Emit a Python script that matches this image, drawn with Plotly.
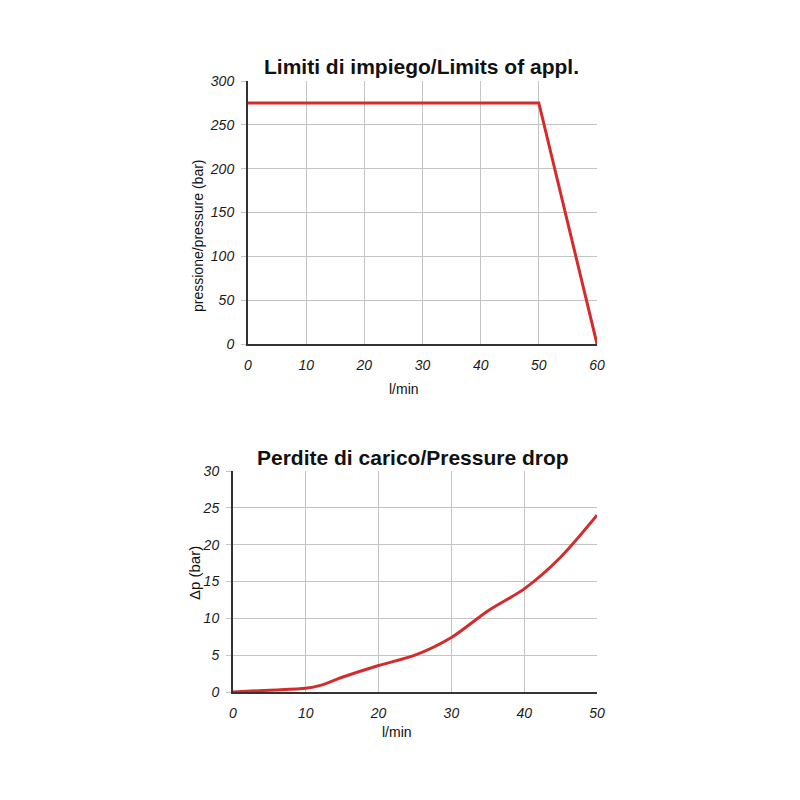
import plotly.graph_objects as go

# Top chart: limits of application
lim_flow = [0, 50, 60]
lim_pressure = [275, 275, 0]

# Bottom chart: pressure drop
drop_flow = [0, 5, 10, 12, 15, 20, 25, 30, 35, 40, 45, 50]
drop_dp = [0, 0.25, 0.5, 0.9, 2.0, 3.6, 5.0, 7.4, 11.0, 14.0, 18.3, 24.0]

top_xticks = [0, 10, 20, 30, 40, 50, 60]
top_yticks = [0, 50, 100, 150, 200, 250, 300]
bot_xticks = [0, 10, 20, 30, 40, 50]
bot_yticks = [0, 5, 10, 15, 20, 25, 30]

RED = "#d42b2b"
FONT = "Liberation Sans, Arial, sans-serif"
W = 800.0
OFF = 8.0  # page body margin offset


def px(v):
    return (v - OFF) / W


def py(v):
    return 1 - (v - OFF) / W


fig = go.Figure()
fig.add_trace(go.Scatter(x=lim_flow, y=lim_pressure, mode="lines",
                         line=dict(color=RED, width=3), xaxis="x", yaxis="y",
                         showlegend=False, hoverinfo="skip"))
fig.add_trace(go.Scatter(x=drop_flow, y=drop_dp, mode="lines",
                         line=dict(color=RED, width=3, shape="spline", smoothing=0.8),
                         xaxis="x2", yaxis="y2", showlegend=False, hoverinfo="skip"))

common = dict(showgrid=True, gridcolor="#c4c4c4", gridwidth=1,
              zeroline=False, showline=True, linecolor="#333333", linewidth=2,
              automargin=False,
              tickfont=dict(family=FONT, size=14, color="#1a1a1a", style="italic"),
              fixedrange=True)
xcommon = dict(ticks="", ticklabelstandoff=7, **common)
ycommon = dict(ticks="outside", ticklen=5, tickcolor="#c4c4c4", tickwidth=1,
               ticklabelstandoff=4, **common)

fig.update_layout(
    template="none",
    width=800, height=800,
    margin=dict(l=0, r=0, t=0, b=0, pad=0),
    paper_bgcolor="white", plot_bgcolor="white",
    font=dict(family=FONT, color="#111111"),
    xaxis=dict(domain=[px(248), px(597)], range=[0, 60], tickvals=top_xticks,
               anchor="y", **xcommon),
    yaxis=dict(domain=[py(344), py(81)], range=[0, 300], tickvals=top_yticks,
               anchor="x", **ycommon),
    xaxis2=dict(domain=[px(233), px(597)], range=[0, 50], tickvals=bot_xticks,
                anchor="y2", **xcommon),
    yaxis2=dict(domain=[py(692), py(471)], range=[0, 30], tickvals=bot_yticks,
                anchor="x2", **ycommon),
)


def ann(text, x, y, size, bold=False, angle=0):
    fig.add_annotation(text=("<b>%s</b>" % text) if bold else text,
                       x=px(x), y=py(y), xref="paper", yref="paper",
                       showarrow=False, textangle=angle,
                       font=dict(family=FONT, size=size, color="#111111"),
                       xanchor="center", yanchor="middle")


ann("Limiti di impiego/Limits of appl.", 422, 67, 21, bold=True)
ann("Perdite di carico/Pressure drop", 413, 457, 21, bold=True)
ann("l/min", 404, 389, 14)
ann("l/min", 397, 732, 14)
ann("pressione/pressure (bar)", 198, 236, 14, angle=-90)
ann("Δp (bar)", 194, 573, 15, angle=-90)

fig.write_html("out.html")
